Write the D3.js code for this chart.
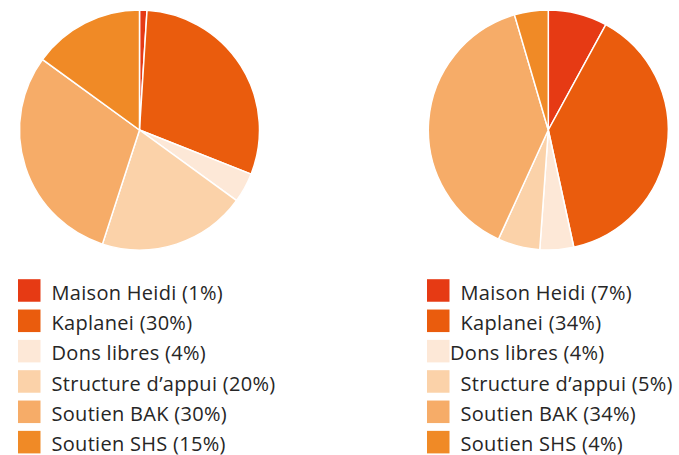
<!DOCTYPE html>
<html>
<head>
<meta charset="utf-8">
<script src="https://cdn.jsdelivr.net/npm/d3@7"></script>
<style>
  body { margin: 0; background: #fff; }
  svg text { font-family: "Open Sans", "Noto Sans", sans-serif; font-size: 20px; letter-spacing: 0.3px; fill: #262626; font-variant-ligatures: none; }
</style>
</head>
<body>
<svg id="chart" width="679" height="455"></svg>
<script>
// categories and values for the two pies
var categories = ["Maison Heidi", "Kaplanei", "Dons libres", "Structure d\u2019appui", "Soutien BAK", "Soutien SHS"]
var leftValues = [1, 30, 4, 20, 30, 15]
var rightValues = [7, 34, 4, 5, 34, 4]

var colorScale = d3.scaleOrdinal()
  .domain(categories)
  .range(["#e63a14", "#ea5c0d", "#fde8d7", "#fbd2a9", "#f6ac68", "#f08a26"])

var svg = d3.select("#chart")

var pie = d3.pie().sort(null).value(function(d) { return d.value })
var arc = d3.arc().innerRadius(0).outerRadius(120)

function drawPanel(values, cx, legendX, labelShift) {
  var data = categories.map(function(c, i) { return { name: c, value: values[i] } })

  var g = svg.append("g").attr("transform", "translate(" + cx + ",130)")
  g.selectAll("path")
    .data(pie(data))
    .join("path")
    .attr("d", arc)
    .style("fill", function(d) { return colorScale(d.data.name) })
    .style("stroke", "#fff")
    .style("stroke-width", 1.5)

  // legend
  var y = d3.scaleBand().domain(categories).range([279.2, 453.4]).paddingInner(0.257)
  var leg = svg.append("g").attr("transform", "translate(" + legendX + ",0)")
  var row = leg.selectAll("g").data(data).join("g")
    .attr("transform", function(d) { return "translate(0," + y(d.name) + ")" })

  row.append("rect")
    .attr("width", 22.5)
    .attr("height", y.bandwidth())
    .style("fill", function(d) { return colorScale(d.name) })

  row.append("text")
    .attr("x", function(d, i) { return 33.5 - (labelShift[i] || 0) })
    .attr("y", 20.5)
    .text(function(d) { return d.name + " (" + d.value + "%)" })
}

drawPanel(leftValues, 139.5, 18, [])
// the right legend has its "Dons libres" label sitting against the swatch
drawPanel(rightValues, 548.3, 427, [0, 0, 10.5, 0, 0, 0])
</script>
</body>
</html>
